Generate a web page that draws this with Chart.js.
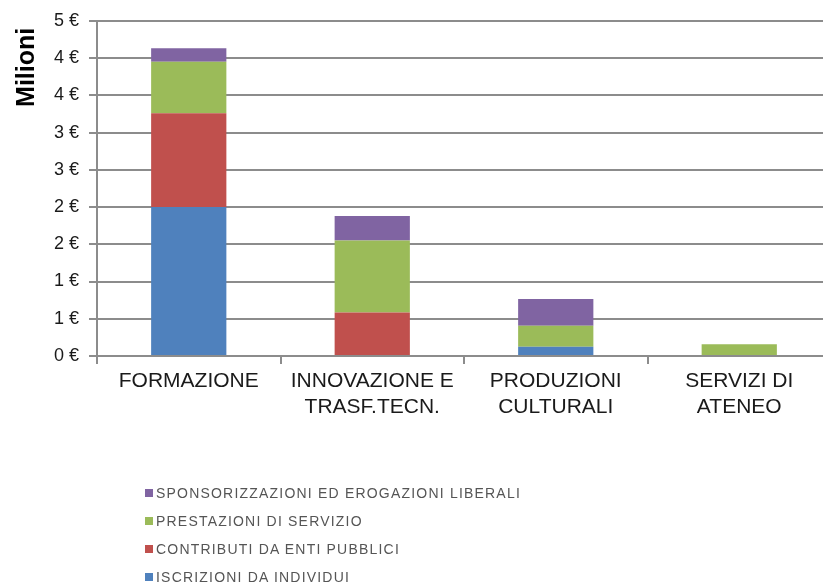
<!DOCTYPE html>
<html>
<head>
<meta charset="utf-8">
<script src="https://cdn.jsdelivr.net/npm/chart.js@4"></script>
<style>
  body { margin: 0; background: #fff; overflow: hidden; width: 823px; height: 585px; }
  #wrap { position: relative; width: 835px; height: 585px; }
  #legenda { position: absolute; left: 145px; top: 483px; font-family: "Liberation Sans", Arial, sans-serif; font-size: 14px; letter-spacing: 1.2px; color: #555; }
  #legenda div { height: 28px; line-height: 20px; white-space: nowrap; }
  #legenda span.box { display: inline-block; width: 8px; height: 8px; margin-right: 3px; vertical-align: 1px; }
</style>
</head>
<body>
<div id="wrap">
  <canvas id="grafico" width="835" height="585"></canvas>
  <div id="legenda"></div>
</div>
<script>
// valori in milioni di euro
const categorie = [['FORMAZIONE'], ['INNOVAZIONE E', 'TRASF.TECN.'], ['PRODUZIONI', 'CULTURALI'], ['SERVIZI DI', 'ATENEO']];
const iscrizioni = [2.0, 0, 0.125, 0];
const contributi = [1.26, 0.585, 0, 0];
const prestazioni = [0.69, 0.965, 0.28, 0.157];
const sponsorizzazioni = [0.18, 0.33, 0.36, 0];
const tickValori = [0, 0.5, 1, 1.5, 2, 2.5, 3, 3.5, 4, 4.5];

const FONT = '"Liberation Sans", Arial, sans-serif';
Chart.defaults.font.family = FONT;

const config = {
    type: 'bar',
    data: {
        labels: categorie,
        datasets: [
            { label: 'ISCRIZIONI DA INDIVIDUI', data: iscrizioni, backgroundColor: '#4F81BD' },
            { label: 'CONTRIBUTI DA ENTI PUBBLICI', data: contributi, backgroundColor: '#C0504D' },
            { label: 'PRESTAZIONI DI SERVIZIO', data: prestazioni, backgroundColor: '#9BBB59' },
            { label: 'SPONSORIZZAZIONI ED EROGAZIONI LIBERALI', data: sponsorizzazioni, backgroundColor: '#8064A2' }
        ]
    },
    options: {
        responsive: false,
        animation: false,
        layout: { padding: { top: 11, bottom: 159, left: 0, right: 4 } },
        datasets: { bar: { categoryPercentage: 1, barPercentage: 0.41 } },
        plugins: {
            legend: { display: false },
            tooltip: { enabled: false }
        },
        scales: {
            x: {
                stacked: true,
                grid: { offset: true, drawOnChartArea: false, color: '#8c8c8c', lineWidth: 2, tickLength: 8 },
                border: { color: '#8c8c8c', width: 2 },
                ticks: { color: '#1a1a1a', font: { size: 21, lineHeight: 1.2 }, padding: 5, maxRotation: 0 },
                afterFit: (scale) => { scale.height = 70; }
            },
            y: {
                stacked: true,
                min: 0,
                max: 4.5,
                afterBuildTicks: (scale) => { scale.ticks = tickValori.map(v => ({ value: v })); },
                grid: { color: '#8c8c8c', lineWidth: 2, tickLength: 8 },
                border: { color: '#8c8c8c', width: 2 },
                ticks: {
                    color: '#1a1a1a',
                    font: { size: 18 },
                    padding: 10,
                    callback: (v) => Math.round(v) + ' €'
                },
                // spazio finale per abbassare un po' il titolo
                title: { display: true, text: 'Milioni ', align: 'end', color: '#000', font: { size: 25, weight: 'bold' }, padding: { top: 12, bottom: 0 } },
                afterFit: (scale) => { scale.width = 97; }
            }
        }
    }
};

const myChart = new Chart(document.getElementById('grafico').getContext('2d'), config);

// legenda verticale, ordine inverso come nell'originale
const legenda = document.getElementById('legenda');
config.data.datasets.slice().reverse().forEach(ds => {
    const riga = document.createElement('div');
    riga.innerHTML = `<span class="box" style="background:${ds.backgroundColor}"></span>${ds.label}`;
    legenda.appendChild(riga);
});
</script>
</body>
</html>
